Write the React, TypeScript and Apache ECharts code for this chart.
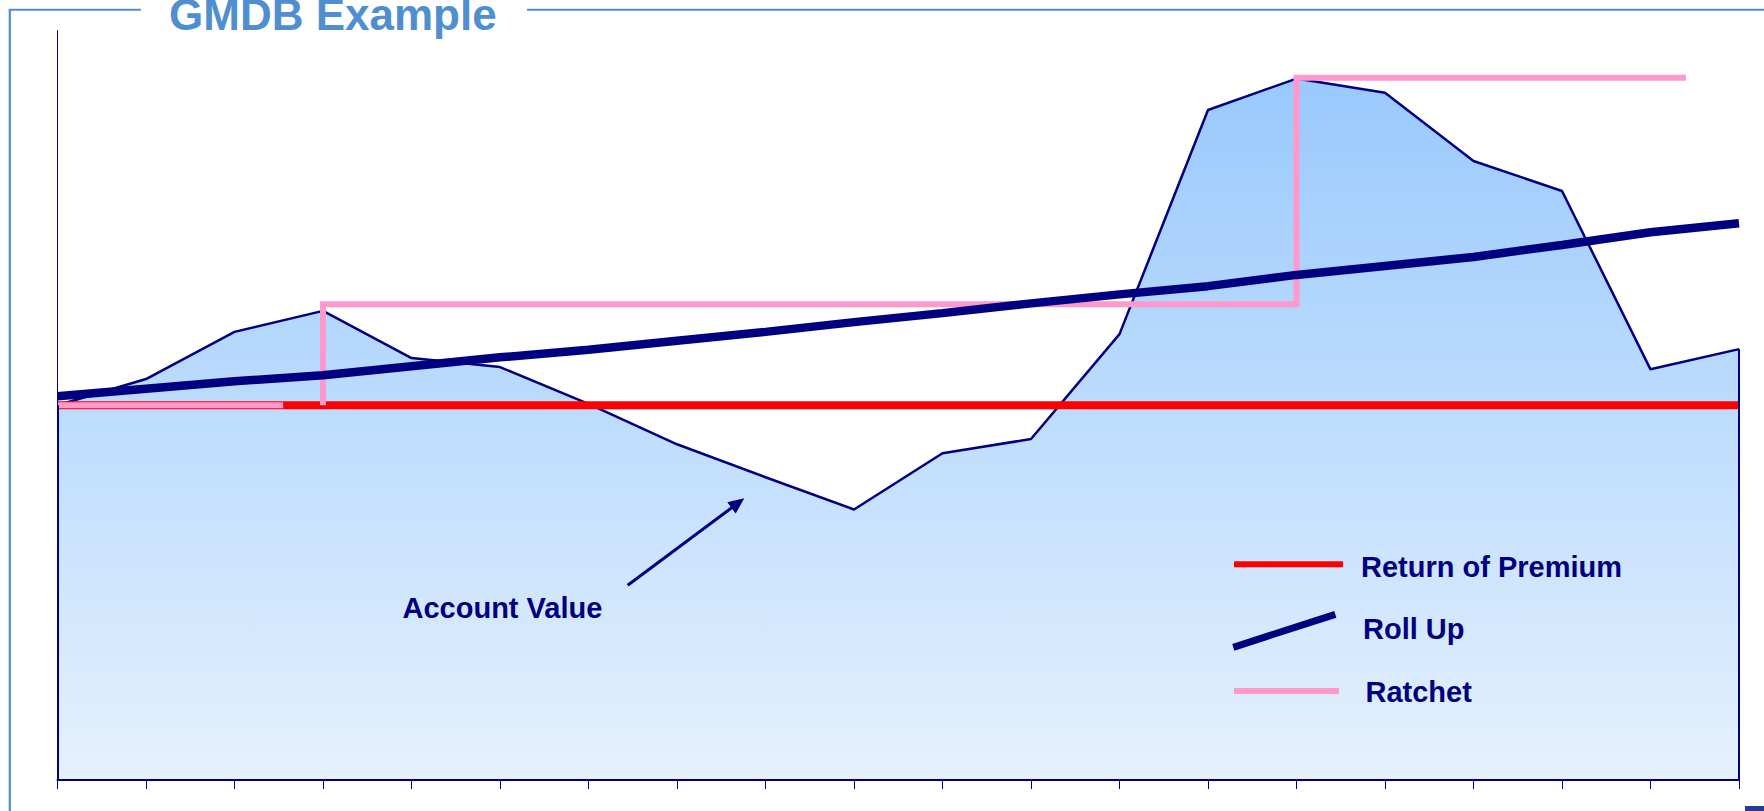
import React, { useEffect, useRef } from "react";
import * as echarts from "echarts";

const periods = [0, 1, 2, 3, 4, 5, 6, 7, 8, 9, 10, 11, 12, 13, 14, 15, 16, 17, 18, 19];
const accountValue = [50, 53.5, 59.8, 62.6, 56.3, 55.1, 50.2, 44.8, 40.4, 36.1, 43.6, 45.5, 59.5, 89.4, 93.6, 91.7, 82.6, 78.6, 54.8, 57.5];
const rollUp = [51.2, 52.2, 53.2, 54.0, 55.2, 56.4, 57.4, 58.6, 59.8, 61.1, 62.3, 63.6, 64.8, 65.9, 67.4, 68.6, 69.8, 71.4, 73.1, 74.3];
const returnOfPremium = [50, 50, 50, 50, 50, 50, 50, 50, 50, 50, 50, 50, 50, 50, 50, 50, 50, 50, 50, 50];
const ratchetLowX = [0, 2.55];
const ratchetLowY = [50, 50];
const ratchetStepX = [3, 3, 14, 14, 18.4];
const ratchetStepY = [50, 63.5, 63.5, 93.7, 93.7];

const NAVY = "#000080";
const RED = "#ff0000";
const PINK = "#ff99cc";
const FRAME = "#4f8fd0";
const FONT = "'Liberation Sans', Arial, sans-serif";

export default function App() {
  const ref = useRef<HTMLDivElement>(null);
  useEffect(() => {
    if (!ref.current) return;
    const chart = echarts.init(ref.current, null, { renderer: "svg" });
    const pair = (xs: number[], ys: number[]) => xs.map((x, i) => [x, ys[i]]);
    const last = periods.length - 1;
    chart.setOption({
      animation: false,
      backgroundColor: "#ffffff",
      grid: { left: 57.5, right: 25, top: 30.6, bottom: 31 },
      xAxis: {
        type: "value",
        min: 0,
        max: 19,
        interval: 1,
        z: 10,
        axisLine: { show: true, onZero: false, lineStyle: { color: NAVY, width: 2 } },
        axisTick: { show: true, length: 9, lineStyle: { color: NAVY, width: 1 } },
        axisLabel: { show: false },
        splitLine: { show: false },
      },
      yAxis: {
        type: "value",
        min: 0,
        max: 100,
        z: 10,
        axisLine: { show: true, lineStyle: { color: NAVY, width: 1 } },
        axisTick: { show: false },
        axisLabel: { show: false },
        splitLine: { show: false },
      },
      series: [
        {
          name: "Account Value",
          type: "line",
          z: 1,
          symbol: "none",
          data: pair(periods, accountValue),
          lineStyle: { color: NAVY, width: 2.5 },
          areaStyle: {
            origin: "start",
            opacity: 1,
            color: new echarts.graphic.LinearGradient(0, 0, 0, 1, [
              { offset: 0, color: "#99c9fd" },
              { offset: 1, color: "#e5f1fd" },
            ]),
          },
          markLine: {
            silent: true,
            symbol: ["none", "none"],
            label: { show: false },
            lineStyle: { color: NAVY, width: 2, type: "solid" },
            data: [
              [{ coord: [periods[0], 0] }, { coord: [periods[0], accountValue[0]] }],
              [{ coord: [periods[last], 0] }, { coord: [periods[last], accountValue[last]] }],
            ],
          },
        },
        {
          name: "Return of Premium",
          type: "line",
          z: 2,
          symbol: "none",
          data: pair(periods, returnOfPremium),
          lineStyle: { color: RED, width: 8 },
        },
        {
          name: "Ratchet",
          type: "line",
          z: 3,
          symbol: "none",
          data: pair(ratchetLowX, ratchetLowY),
          lineStyle: { color: PINK, width: 6 },
        },
        {
          name: "Ratchet step",
          type: "line",
          z: 3,
          symbol: "none",
          data: pair(ratchetStepX, ratchetStepY),
          lineStyle: { color: PINK, width: 6, join: "miter" },
        },
        {
          name: "Roll Up",
          type: "line",
          z: 4,
          symbol: "none",
          data: pair(periods, rollUp),
          lineStyle: { color: NAVY, width: 8.5 },
        },
      ],
      graphic: [
        { type: "line", z: 100, shape: { x1: 9.8, y1: 9.7, x2: 9.8, y2: 811 }, style: { stroke: FRAME, lineWidth: 2.2 } },
        { type: "line", z: 100, shape: { x1: 8.7, y1: 9.7, x2: 141, y2: 9.7 }, style: { stroke: FRAME, lineWidth: 2 } },
        { type: "line", z: 100, shape: { x1: 527, y1: 9.7, x2: 1764, y2: 9.7 }, style: { stroke: FRAME, lineWidth: 2 } },
        {
          type: "text",
          z: 100,
          x: 169,
          y: 14,
          style: { text: "GMDB Example", fill: FRAME, font: `bold 44px ${FONT}`, verticalAlign: "middle", align: "left" },
        },
        { type: "rect", z: 100, shape: { x: 1745, y: 806, width: 19, height: 5 }, style: { fill: "#1f3f95" } },
        // legend
        { type: "line", z: 100, shape: { x1: 1234, y1: 564.3, x2: 1343, y2: 564.3 }, style: { stroke: RED, lineWidth: 6 } },
        { type: "line", z: 100, shape: { x1: 1233.3, y1: 647.3, x2: 1335.3, y2: 614.3 }, style: { stroke: NAVY, lineWidth: 7 } },
        { type: "line", z: 100, shape: { x1: 1234, y1: 691, x2: 1339, y2: 691 }, style: { stroke: PINK, lineWidth: 6 } },
        {
          type: "text",
          z: 100,
          x: 1361,
          y: 567.2,
          style: { text: "Return of Premium", fill: NAVY, font: `bold 29px ${FONT}`, verticalAlign: "middle", align: "left" },
        },
        {
          type: "text",
          z: 100,
          x: 1363,
          y: 628.7,
          style: { text: "Roll Up", fill: NAVY, font: `bold 29px ${FONT}`, verticalAlign: "middle", align: "left" },
        },
        {
          type: "text",
          z: 100,
          x: 1365.5,
          y: 691.7,
          style: { text: "Ratchet", fill: NAVY, font: `bold 29px ${FONT}`, verticalAlign: "middle", align: "left" },
        },
        // annotation
        {
          type: "text",
          z: 100,
          x: 402.5,
          y: 607.5,
          style: { text: "Account Value", fill: NAVY, font: `bold 29px ${FONT}`, verticalAlign: "middle", align: "left" },
        },
        { type: "line", z: 100, shape: { x1: 627.7, y1: 585.3, x2: 732, y2: 507.5 }, style: { stroke: NAVY, lineWidth: 3 } },
        {
          type: "polygon",
          z: 100,
          shape: { points: [[744.3, 498.3], [735.7, 513.5], [727.3, 502.3]] },
          style: { fill: NAVY },
        },
      ],
    });
    return () => chart.dispose();
  }, []);
  return (
    <div
      ref={ref}
      style={{ position: "fixed", left: 0, top: 0, width: 1764, height: 811, background: "#fff" }}
    />
  );
}
